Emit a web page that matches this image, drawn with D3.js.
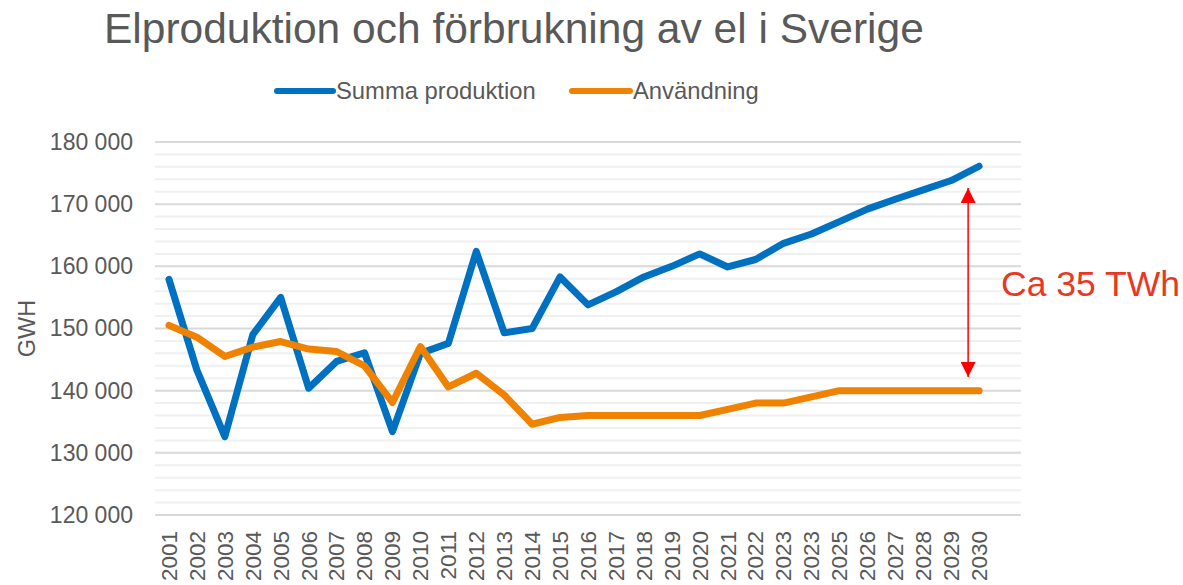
<!DOCTYPE html>
<html>
<head>
<meta charset="utf-8">
<script src="https://cdn.jsdelivr.net/npm/d3@7"></script>
<style>
  body { margin: 0; background: #fff; }
  text { font-family: "Liberation Sans", Arial, sans-serif; }
</style>
</head>
<body>
<svg id="chart"></svg>
<script>
// årtal som står i diagrammet (2023 står två gånger i originalet)
const years = ['2001','2002','2003','2004','2005','2006','2007','2008','2009','2010',
               '2011','2012','2013','2014','2015','2016','2017','2018','2019','2020',
               '2021','2022','2023','2023','2025','2026','2027','2028','2029','2030'];

const produktion = [157900, 143300, 132600, 149000, 155000, 140400, 144700, 146100, 133400, 146000,
                    147600, 162400, 149300, 150000, 158300, 153800, 155900, 158300, 160000, 162000,
                    159900, 161100, 163700, 165200, 167200, 169200, 170800, 172300, 173800, 176100];

const anvandning = [150500, 148600, 145500, 147000, 147900, 146700, 146300, 144000, 138100, 147100,
                    140600, 142800, 139300, 134600, 135700, 136000, 136000, 136000, 136000, 136000,
                    137000, 138000, 138000, 139000, 140000, 140000, 140000, 140000, 140000, 140000];

const yTicks = [120000, 130000, 140000, 150000, 160000, 170000, 180000];

const seriesNames = ['Summa produktion', 'Användning'];
const seriesColors = ['#0070c0', '#ef8200'];

const width = 1183;
const height = 585;
const margin = {top: 142, right: 162, bottom: 70, left: 155};

const svg = d3.select('#chart')
              .attr('width', width)
              .attr('height', height);

// en tom kategori efter 2030 finns i originalet
const x = d3.scaleBand()
            .domain(d3.range(years.length + 1))
            .range([margin.left, width - margin.right])
            .padding(0);

const cx = (i) => x(i) + x.bandwidth() / 2;

const y = d3.scaleLinear()
            .domain([120000, 180000])
            .range([height - margin.bottom, margin.top]);

// stödlinjer
svg.append('g')
   .selectAll('line')
   .data(d3.range(120000, 180001, 2000))
   .enter()
   .append('line')
   .attr('x1', margin.left)
   .attr('x2', width - margin.right)
   .attr('y1', d => y(d))
   .attr('y2', d => y(d))
   .attr('stroke', d => d % 10000 === 0 ? '#d9d9d9' : '#f0f0f0')
   .attr('stroke-width', 2);

// y-axel
const yAxis = d3.axisLeft(y)
                .tickValues(yTicks)
                .tickFormat(d => d3.format(',')(d).replace(/,/g, ' '))
                .tickSize(0)
                .tickPadding(22);

svg.append('g')
   .attr('transform', `translate(${margin.left},0)`)
   .call(yAxis)
   .call(g => g.select('.domain').remove())
   .selectAll('text')
   .attr('fill', '#595959')
   .style('font-size', '23px');

// x-axel
const xAxis = d3.axisBottom(x)
                .tickValues(d3.range(years.length))
                .tickFormat(i => years[i])
                .tickSize(0);

svg.append('g')
   .attr('transform', `translate(0,${height - margin.bottom})`)
   .call(xAxis)
   .call(g => g.select('.domain').remove())
   .selectAll('text')
   .attr('fill', '#595959')
   .style('font-size', '22.5px')
   .attr('transform', 'rotate(-90)')
   .attr('text-anchor', 'end')
   .attr('x', -16)
   .attr('y', 0)
   .attr('dy', '0.35em');

svg.append('text')
   .attr('transform', `translate(35,${y(150000)}) rotate(-90)`)
   .attr('text-anchor', 'middle')
   .attr('fill', '#595959')
   .style('font-size', '23.5px')
   .text('GWH');

// linjer
const line = d3.line()
               .x((d, i) => cx(i))
               .y(d => y(d));

[produktion, anvandning].forEach((values, k) => {
  svg.append('path')
     .datum(values)
     .attr('d', line)
     .attr('fill', 'none')
     .attr('stroke', seriesColors[k])
     .attr('stroke-width', 7)
     .attr('stroke-linejoin', 'round')
     .attr('stroke-linecap', 'round');
});

// titel
svg.append('text')
   .attr('x', 104)
   .attr('y', 43)
   .attr('fill', '#595959')
   .style('font-size', '42.5px')
   .text('Elproduktion och förbrukning av el i Sverige');

// förklaring
const legendItems = [{x: 277, w: 56}, {x: 572, w: 58}];
legendItems.forEach((item, k) => {
  const g = svg.append('g').attr('transform', `translate(${item.x},91)`);
  g.append('line')
   .attr('x1', 0).attr('x2', item.w)
   .attr('stroke', seriesColors[k])
   .attr('stroke-width', 6)
   .attr('stroke-linecap', 'round');
  g.append('text')
   .attr('x', item.w + 3)
   .attr('dy', '0.35em')
   .attr('fill', '#595959')
   .style('font-size', '23.8px')
   .text(seriesNames[k]);
});

// pil och kommentar
const defs = svg.append('defs');
['start', 'end'].forEach(id => {
  defs.append('marker')
      .attr('id', 'arrow-' + id)
      .attr('viewBox', '0 0 15 15')
      .attr('refX', 15)
      .attr('refY', 7.5)
      .attr('markerWidth', 15)
      .attr('markerHeight', 15)
      .attr('markerUnits', 'userSpaceOnUse')
      .attr('orient', id === 'start' ? 'auto-start-reverse' : 'auto')
      .append('path')
      .attr('d', 'M0,0 L15,7.5 L0,15 Z')
      .attr('fill', '#ff0000');
});

const arrowX = (cx(28) + cx(29)) / 2 + 3;
svg.append('line')
   .attr('x1', arrowX).attr('x2', arrowX)
   .attr('y1', y(172600)).attr('y2', y(142200))
   .attr('stroke', '#ff0000')
   .attr('stroke-width', 1.5)
   .attr('marker-start', 'url(#arrow-start)')
   .attr('marker-end', 'url(#arrow-end)');

svg.append('text')
   .attr('x', 1001)
   .attr('y', y(155300))
   .attr('fill', '#e8381f')
   .style('font-size', '35.5px')
   .text('Ca 35 TWh');
</script>
</body>
</html>
